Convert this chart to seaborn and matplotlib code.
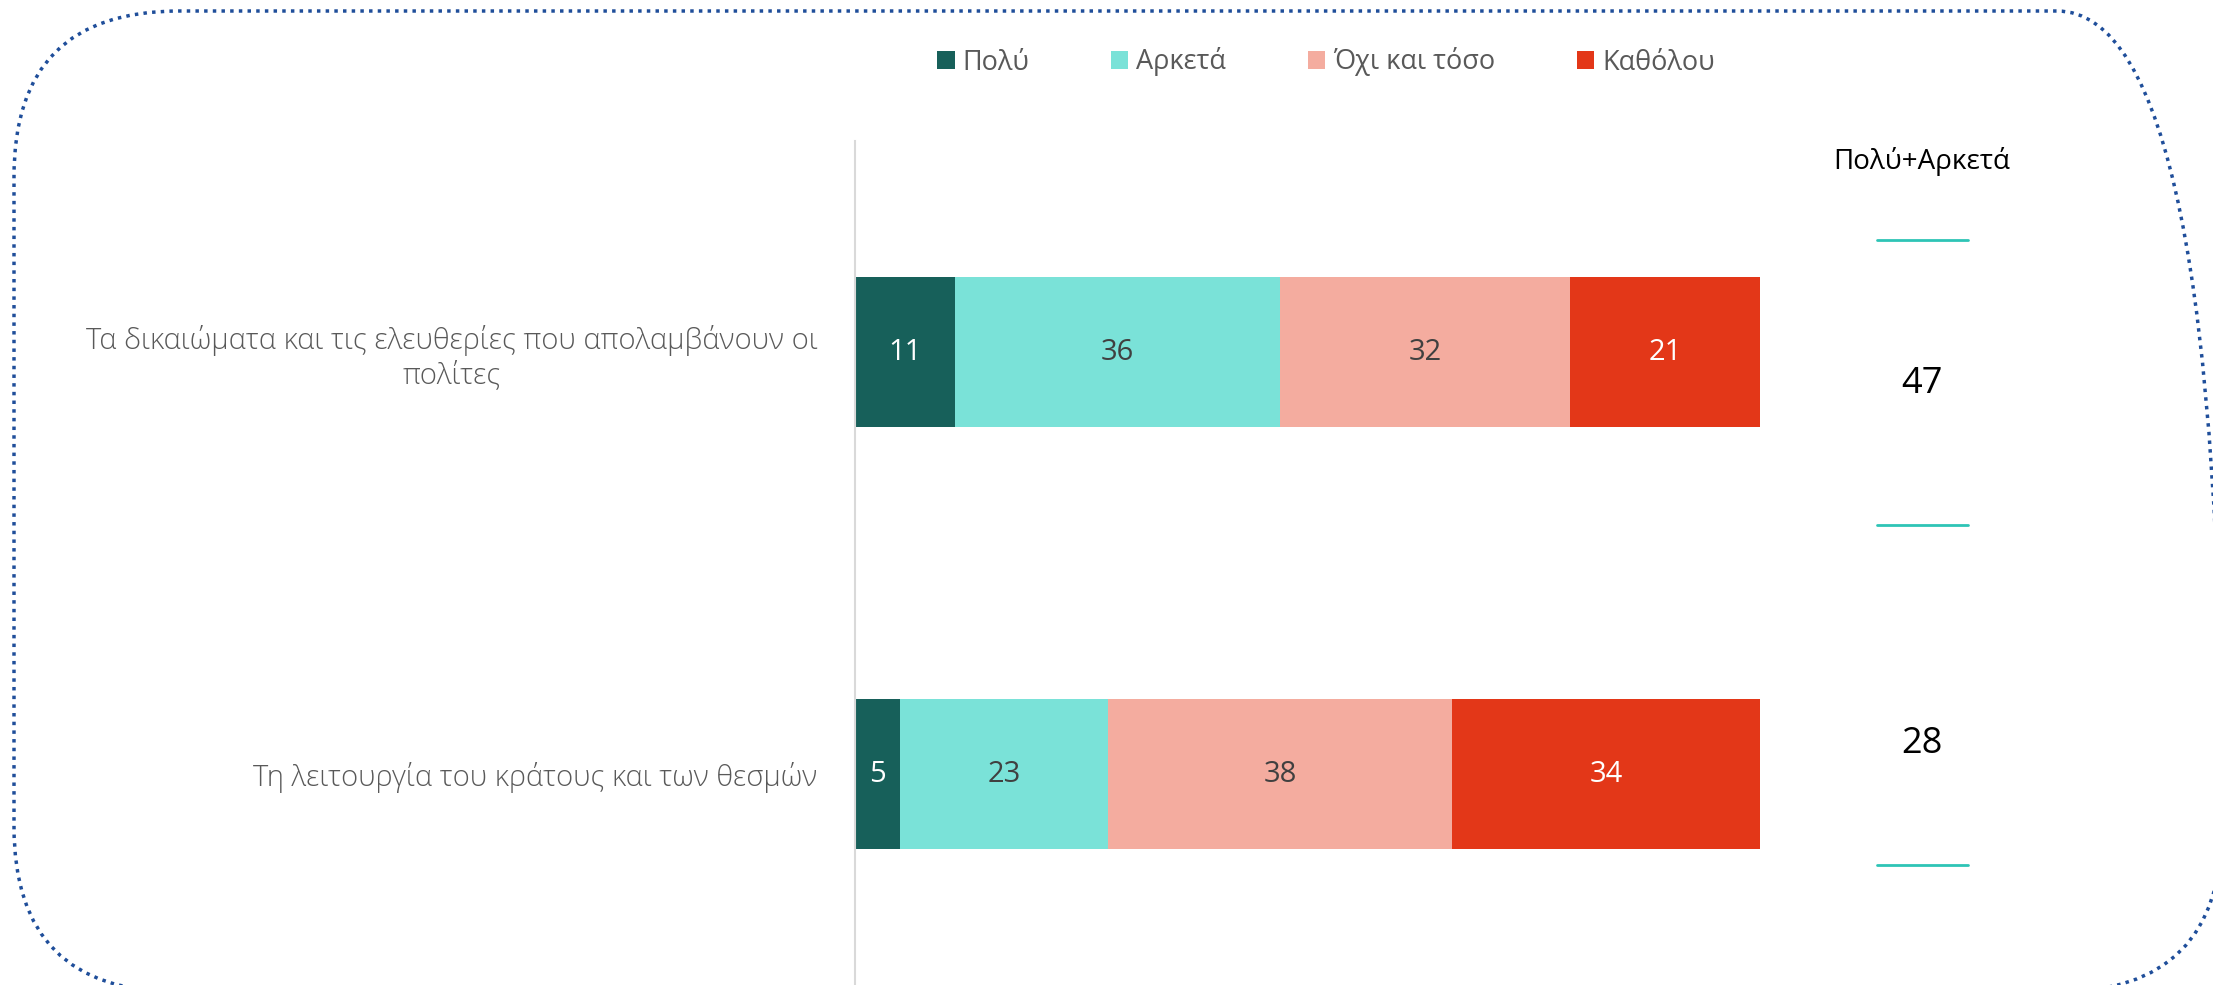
import matplotlib
matplotlib.use('Agg')
import matplotlib.pyplot as plt
import pandas as pd
import seaborn as sns
from matplotlib.patches import Patch, FancyBboxPatch
from matplotlib.lines import Line2D
from matplotlib.transforms import IdentityTransform

## Data
categories = ['Τα δικαιώματα και τις ελευθερίες που απολαμβάνουν οι\nπολίτες',
              'Τη λειτουργία του κράτους και των θεσμών']
series = ['Πολύ', 'Αρκετά', 'Όχι και τόσο', 'Καθόλου']
polu = [11, 5]
arketa = [36, 23]
oxi_kai_toso = [32, 38]
katholou = [21, 34]
total_title = 'Πολύ+Αρκετά'

colors = ['#17605A', '#7AE2D8', '#F4AC9F', '#E33718']
label_colors = ['white', '#404040', '#404040', 'white']
grey = '#595959'

sns.set_style('white')
plt.rcParams['font.family'] = ['Open Sans', 'DejaVu Sans']

df = pd.DataFrame({'cat': categories, series[0]: polu, series[1]: arketa,
                   series[2]: oxi_kai_toso, series[3]: katholou})
cum = df[series].cumsum(axis=1)

W, H = 2213, 985
fig = plt.figure(figsize=(W / 100, H / 100), dpi=100)
ax = fig.add_axes([855 / W, 0, 905 / W, 844 / H])

## stacked bars: draw cumulative totals from the back to the front
for s, c in reversed(list(zip(series, colors))):
    sns.barplot(x=cum[s], y=df['cat'], color=c, width=0.355, saturation=1,
                orient='h', linewidth=0, ax=ax)

## segment labels
for i in range(len(df)):
    for s, lc in zip(series, label_colors):
        v = df.loc[i, s]
        x = cum.loc[i, s] - v / 2
        ax.text(x, i, str(v), ha='center', va='center', color=lc, fontsize=21)

ax.set_xlim(0, 100)
ax.set_xlabel('')
ax.set_ylabel('')
ax.set_xticks([])
for sp in ['top', 'right', 'bottom']:
    ax.spines[sp].set_visible(False)
ax.spines['left'].set_color('#D9D9D9')
ax.spines['left'].set_linewidth(1.5)
ax.tick_params(axis='y', length=0, pad=27, labelsize=21, labelcolor=grey)
for lbl in ax.get_yticklabels():
    lbl.set_multialignment('center')
    lbl.set_fontweight('light')

## legend
handles = [Patch(facecolor=c, edgecolor='none') for c in colors]
fig.legend(handles, series, loc='center', bbox_to_anchor=(1326 / W, 1 - 62 / H),
           ncol=4, frameon=False, fontsize=19.5, handlelength=0.65, handleheight=0.65,
           handletextpad=0.3, columnspacing=3.0, labelcolor=grey)

## Πολύ+Αρκετά column
totals = [p + a for p, a in zip(polu, arketa)]
col_x = 1922 / W
fig.text(col_x, 1 - 162 / H, total_title, ha='center', va='center', fontsize=20, color='black')
for y in [240, 525, 865]:
    fig.add_artist(Line2D([1877 / W, 1968 / W], [1 - y / H, 1 - y / H],
                          transform=fig.transFigure, color='#2EC4B6', lw=2))
for t, y in zip(totals, [384, 744]):
    fig.text(col_x, 1 - y / H, str(t), ha='center', va='center', fontsize=26, color='black')

## dotted rounded frame
frame = FancyBboxPatch((14, H - 992), 2208, 981, boxstyle='round,pad=0,rounding_size=165',
                       transform=IdentityTransform(), fill=False, edgecolor='#1F4E9A',
                       linestyle=(0, (1, 1.5)), linewidth=2.5)
fig.add_artist(frame)

fig.savefig('out.png', dpi=100)
